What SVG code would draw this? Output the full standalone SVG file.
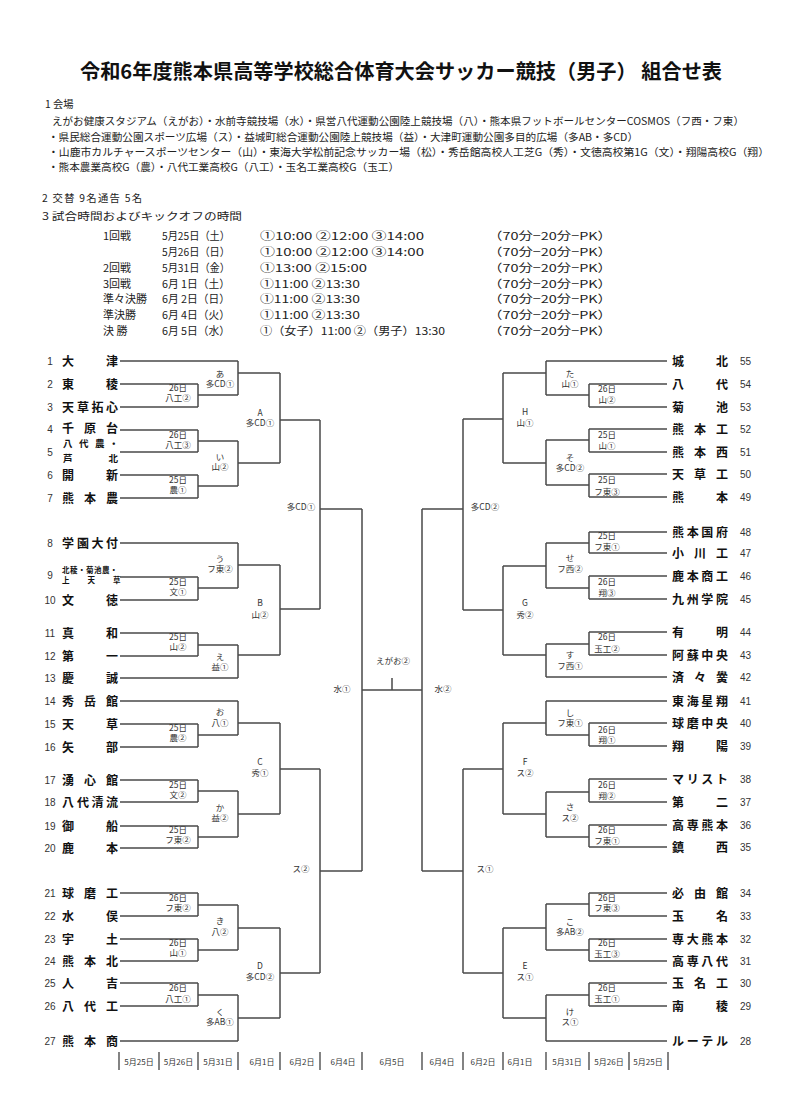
<svg xmlns="http://www.w3.org/2000/svg" width="789" height="1106" viewBox="0 0 789 1106">
<style>
.bg{fill:#fff}
.ln{stroke:#4a4a4a;stroke-width:1.5;fill:none}
.tk{stroke:#333;stroke-width:1.2;fill:none}
.ti{font-family:"Noto Sans CJK JP",sans-serif;font-weight:bold;font-size:20px;fill:#111}
.hd{font-family:"Noto Sans CJK JP",sans-serif;font-size:10.3px;fill:#222}
.sc{font-family:"Noto Sans CJK JP",sans-serif;font-size:11px;fill:#222}
.tm{font-family:"Noto Sans CJK JP",sans-serif;font-weight:bold;font-size:12px;fill:#111}
.tm5{font-family:"Noto Sans CJK JP",sans-serif;font-weight:bold;font-size:9.5px;fill:#111}
.tm9{font-family:"Noto Sans CJK JP",sans-serif;font-weight:bold;font-size:7.5px;fill:#111}
.no{font-family:"Liberation Sans","Noto Sans CJK JP",sans-serif;font-size:10px;fill:#333;text-anchor:middle}
.nr{font-family:"Liberation Sans","Noto Sans CJK JP",sans-serif;font-size:10px;fill:#333}
.lb{font-family:"Noto Sans CJK JP",sans-serif;font-size:8.5px;fill:#333;text-anchor:middle}
.dt{font-family:"Noto Sans CJK JP",sans-serif;font-size:8px;fill:#333;text-anchor:middle}
</style>
<rect class="bg" x="0" y="0" width="789" height="1106"/>

<g id="header">
<text class="ti" x="80" y="79" textLength="642" lengthAdjust="spacingAndGlyphs">令和6年度熊本県高等学校総合体育大会サッカー競技（男子） 組合せ表</text>
<text class="hd" x="45" y="108">1 会場</text>
<text class="hd" x="52" y="124.5" textLength="692" lengthAdjust="spacingAndGlyphs">えがお健康スタジアム（えがお）・水前寺競技場（水）・県営八代運動公園陸上競技場（八）・熊本県フットボールセンターCOSMOS（フ西・フ東）</text>
<text class="hd" x="48" y="140.5" textLength="590" lengthAdjust="spacingAndGlyphs">・県民総合運動公園スポーツ広場（ス）・益城町総合運動公園陸上競技場（益）・大津町運動公園多目的広場（多AB・多CD）</text>
<text class="hd" x="48" y="155.5" textLength="721" lengthAdjust="spacingAndGlyphs">・山鹿市カルチャースポーツセンター（山）・東海大学松前記念サッカー場（松）・秀岳館高校人工芝G（秀）・文徳高校第1G（文）・翔陽高校G（翔）</text>
<text class="hd" x="48" y="171" textLength="351" lengthAdjust="spacingAndGlyphs">・熊本農業高校G（農）・八代工業高校G（八工）・玉名工業高校G（玉工）</text>
<text class="hd" x="42" y="202" textLength="100" lengthAdjust="spacing">2 交替 9名通告 5名</text>
<text class="hd" x="42" y="220" textLength="200" lengthAdjust="spacingAndGlyphs">3 試合時間およびキックオフの時間</text>
</g>

<g id="schedule">
<text class="sc" x="103" y="239.5">1回戦</text>
<text class="sc" x="162" y="239.5" textLength="68" lengthAdjust="spacingAndGlyphs">5月25日（土）</text>
<text class="sc" x="260" y="239.5" textLength="164" lengthAdjust="spacingAndGlyphs">①10:00 ②12:00 ③14:00</text>
<text class="sc" x="488" y="239.5" textLength="124" lengthAdjust="spacingAndGlyphs">（70分−20分−PK）</text>

<text class="sc" x="162" y="255.5" textLength="68" lengthAdjust="spacingAndGlyphs">5月26日（日）</text>
<text class="sc" x="260" y="255.5" textLength="164" lengthAdjust="spacingAndGlyphs">①10:00 ②12:00 ③14:00</text>
<text class="sc" x="488" y="255.5" textLength="124" lengthAdjust="spacingAndGlyphs">（70分−20分−PK）</text>

<text class="sc" x="103" y="271.5">2回戦</text>
<text class="sc" x="162" y="271.5" textLength="68" lengthAdjust="spacingAndGlyphs">5月31日（金）</text>
<text class="sc" x="260" y="271.5" textLength="107" lengthAdjust="spacingAndGlyphs">①13:00 ②15:00</text>
<text class="sc" x="488" y="271.5" textLength="124" lengthAdjust="spacingAndGlyphs">（70分−20分−PK）</text>

<text class="sc" x="103" y="287.5">3回戦</text>
<text class="sc" x="162" y="287.5" textLength="68" lengthAdjust="spacingAndGlyphs">6月 1日（土）</text>
<text class="sc" x="260" y="287.5" textLength="100" lengthAdjust="spacingAndGlyphs">①11:00 ②13:30</text>
<text class="sc" x="488" y="287.5" textLength="124" lengthAdjust="spacingAndGlyphs">（70分−20分−PK）</text>

<text class="sc" x="103" y="303">準々決勝</text>
<text class="sc" x="162" y="303" textLength="68" lengthAdjust="spacingAndGlyphs">6月 2日（日）</text>
<text class="sc" x="260" y="303" textLength="100" lengthAdjust="spacingAndGlyphs">①11:00 ②13:30</text>
<text class="sc" x="488" y="303" textLength="124" lengthAdjust="spacingAndGlyphs">（70分−20分−PK）</text>

<text class="sc" x="103" y="318.5">準決勝</text>
<text class="sc" x="162" y="318.5" textLength="68" lengthAdjust="spacingAndGlyphs">6月 4日（火）</text>
<text class="sc" x="260" y="318.5" textLength="100" lengthAdjust="spacingAndGlyphs">①11:00 ②13:30</text>
<text class="sc" x="488" y="318.5" textLength="124" lengthAdjust="spacingAndGlyphs">（70分−20分−PK）</text>

<text class="sc" x="103" y="334.5">決 勝</text>
<text class="sc" x="162" y="334.5" textLength="68" lengthAdjust="spacingAndGlyphs">6月 5日（水）</text>
<text class="sc" x="260" y="334.5" textLength="185" lengthAdjust="spacingAndGlyphs">①（女子）11:00 ②（男子）13:30</text>
<text class="sc" x="488" y="334.5" textLength="124" lengthAdjust="spacingAndGlyphs">（70分−20分−PK）</text>
</g>

<g id="connectors">
<path class="ln" d="
M120 361H238 M120 384H198 M120 407H198 M120 430H198 M120 452H198 M120 475H198 M120 498H198
M120 543H238 M120 577H198 M120 600H198 M120 633H198 M120 656H198 M120 678H238
M120 701H238 M120 724H198 M120 747H198 M120 780H198 M120 802H198 M120 826H198 M120 848H198
M120 893H198 M120 916H198 M120 939H198 M120 961H198 M120 983H198 M120 1006H198 M120 1041H238
M198 384V407 M198 395H238 M198 430V452 M198 441H238 M198 475V498 M198 486H238
M198 577V600 M198 588H238 M198 633V656 M198 645H238
M198 724V747 M198 735H238 M198 780V802 M198 791H238 M198 826V848 M198 837H238
M198 893V916 M198 905H238 M198 939V961 M198 950H238 M198 983V1006 M198 995H238
M238 361V395 M238 373H280 M238 441V486 M238 463H280 M238 543V588 M238 565H280 M238 645V678 M238 655H280
M238 701V735 M238 723H280 M238 791V837 M238 814H280 M238 905V950 M238 928H280 M238 995V1041 M238 1018H280
M280 373V463 M280 420H320 M280 565V655 M280 609H320 M280 723V814 M280 769H320 M280 928V1018 M280 973H320
M320 420V609 M320 509H362 M320 769V973 M320 871H362
M362 509V871 M362 690H422 M392 678V690
M422 509V871 M422 509H463 M422 871H463
M463 419V610 M463 769V973
M463 419H503 M463 610H503 M463 769H503 M463 973H503
M503 373V463 M503 566V655 M503 723V814 M503 928V1018
M503 373H546 M503 463H546 M503 566H546 M503 655H546 M503 723H546 M503 814H546 M503 928H546 M503 1018H546
M546 361V395 M546 440V485 M546 543V588 M546 644V677 M546 701V735 M546 792V837 M546 904V950 M546 995V1041
M546 395H589 M546 440H589 M546 485H589 M546 543H589 M546 588H589 M546 644H589 M546 735H589 M546 792H589 M546 837H589 M546 904H589 M546 950H589 M546 995H589
M589 384V407 M589 429V452 M589 474V497 M589 532V553 M589 576V599 M589 632V655 M589 723V746 M589 779V802 M589 825V847 M589 893V916 M589 939V961 M589 983V1006
M546 361H667 M589 384H667 M589 407H667 M589 429H667 M589 452H667 M589 474H667 M589 497H667
M589 532H667 M589 553H667 M589 576H667 M589 599H667 M589 632H667 M589 655H667 M546 677H667
M546 701H667 M589 723H667 M589 746H667 M589 779H667 M589 802H667 M589 825H667 M589 847H667
M589 893H667 M589 916H667 M589 939H667 M589 961H667 M589 983H667 M589 1006H667 M546 1041H667"/>
</g>

<g id="teams-left">
<g id="team-1"><text class="no" x="50" y="364.6">1</text><text class="tm" x="62 106" y="365.5">大津</text></g>
<g id="team-2"><text class="no" x="50" y="387.6">2</text><text class="tm" x="62 106" y="388.5">東稜</text></g>
<g id="team-3"><text class="no" x="50" y="410.6">3</text><text class="tm" x="62 77 91.5 106" y="411.5">天草拓心</text></g>
<g id="team-4"><text class="no" x="50" y="432.6">4</text><text class="tm" x="62 84 106" y="433">千原台</text></g>
<g id="team-5"><text class="no" x="50" y="455.6">5</text><text class="tm5" x="63 79 95 109" y="447">八代農・</text><text class="tm5" x="63 108.5" y="461.5">芦北</text></g>
<g id="team-6"><text class="no" x="50" y="478.6">6</text><text class="tm" x="62 106" y="479.5">開新</text></g>
<g id="team-7"><text class="no" x="50" y="501.6">7</text><text class="tm" x="62 84 106" y="502.5">熊本農</text></g>
<g id="team-8"><text class="no" x="50" y="546.6">8</text><text class="tm" x="62 77 91.5 106" y="547.5">学園大付</text></g>
<g id="team-9"><text class="no" x="50" y="578.6">9</text><text class="tm9" x="62 70 78 86 94 102 110" y="572.8">北稜・菊池農・</text><text class="tm9" x="62 87.5 113" y="582.5">上天草</text></g>
<g id="team-10"><text class="no" x="50" y="603.6">10</text><text class="tm" x="62 106" y="604.5">文徳</text></g>
<g id="team-11"><text class="no" x="50" y="636.6">11</text><text class="tm" x="62 106" y="637.5">真和</text></g>
<g id="team-12"><text class="no" x="50" y="659.6">12</text><text class="tm" x="62 106" y="660.5">第一</text></g>
<g id="team-13"><text class="no" x="50" y="681.6">13</text><text class="tm" x="62 106" y="682.5">慶誠</text></g>
<g id="team-14"><text class="no" x="50" y="704.6">14</text><text class="tm" x="62 84 106" y="705.5">秀岳館</text></g>
<g id="team-15"><text class="no" x="50" y="727.6">15</text><text class="tm" x="62 106" y="728.5">天草</text></g>
<g id="team-16"><text class="no" x="50" y="750.6">16</text><text class="tm" x="62 106" y="751.5">矢部</text></g>
<g id="team-17"><text class="no" x="50" y="783.6">17</text><text class="tm" x="62 84 106" y="784.5">湧心館</text></g>
<g id="team-18"><text class="no" x="50" y="805.6">18</text><text class="tm" x="62 77 91.5 106" y="806.5">八代清流</text></g>
<g id="team-19"><text class="no" x="50" y="829.6">19</text><text class="tm" x="62 106" y="830.5">御船</text></g>
<g id="team-20"><text class="no" x="50" y="851.6">20</text><text class="tm" x="62 106" y="852.5">鹿本</text></g>
<g id="team-21"><text class="no" x="50" y="896.6">21</text><text class="tm" x="62 84 106" y="897.5">球磨工</text></g>
<g id="team-22"><text class="no" x="50" y="919.6">22</text><text class="tm" x="62 106" y="920.5">水俣</text></g>
<g id="team-23"><text class="no" x="50" y="942.6">23</text><text class="tm" x="62 106" y="943.5">宇土</text></g>
<g id="team-24"><text class="no" x="50" y="964.6">24</text><text class="tm" x="62 84 106" y="965.5">熊本北</text></g>
<g id="team-25"><text class="no" x="50" y="986.6">25</text><text class="tm" x="62 106" y="987.5">人吉</text></g>
<g id="team-26"><text class="no" x="50" y="1009.6">26</text><text class="tm" x="62 84 106" y="1010.5">八代工</text></g>
<g id="team-27"><text class="no" x="50" y="1044.6">27</text><text class="tm" x="62 84 106" y="1045.5">熊本商</text></g>
</g>

<g id="teams-right">
<g id="team-55"><text class="tm" x="672 716" y="365.5">城北</text><text class="nr" x="740" y="364.6">55</text></g>
<g id="team-54"><text class="tm" x="672 716" y="388.5">八代</text><text class="nr" x="740" y="387.6">54</text></g>
<g id="team-53"><text class="tm" x="672 716" y="411.5">菊池</text><text class="nr" x="740" y="410.6">53</text></g>
<g id="team-52"><text class="tm" x="672 694 716" y="433.5">熊本工</text><text class="nr" x="740" y="432.6">52</text></g>
<g id="team-51"><text class="tm" x="672 694 716" y="456.5">熊本西</text><text class="nr" x="740" y="455.6">51</text></g>
<g id="team-50"><text class="tm" x="672 694 716" y="478.5">天草工</text><text class="nr" x="740" y="477.6">50</text></g>
<g id="team-49"><text class="tm" x="672 716" y="501.5">熊本</text><text class="nr" x="740" y="500.6">49</text></g>
<g id="team-48"><text class="tm" x="672 686.7 701.3 716" y="536.5">熊本国府</text><text class="nr" x="740" y="535.6">48</text></g>
<g id="team-47"><text class="tm" x="672 694 716" y="557.5">小川工</text><text class="nr" x="740" y="556.6">47</text></g>
<g id="team-46"><text class="tm" x="672 686.7 701.3 716" y="580.5">鹿本商工</text><text class="nr" x="740" y="579.6">46</text></g>
<g id="team-45"><text class="tm" x="672 686.7 701.3 716" y="603.5">九州学院</text><text class="nr" x="740" y="602.6">45</text></g>
<g id="team-44"><text class="tm" x="672 716" y="636.5">有明</text><text class="nr" x="740" y="635.6">44</text></g>
<g id="team-43"><text class="tm" x="672 686.7 701.3 716" y="659.5">阿蘇中央</text><text class="nr" x="740" y="658.6">43</text></g>
<g id="team-42"><text class="tm" x="672 694 716" y="681.5">済々黌</text><text class="nr" x="740" y="680.6">42</text></g>
<g id="team-41"><text class="tm" x="672 686.7 701.3 716" y="705.5">東海星翔</text><text class="nr" x="740" y="704.6">41</text></g>
<g id="team-40"><text class="tm" x="672 686.7 701.3 716" y="727.5">球磨中央</text><text class="nr" x="740" y="726.6">40</text></g>
<g id="team-39"><text class="tm" x="672 716" y="750.5">翔陽</text><text class="nr" x="740" y="749.6">39</text></g>
<g id="team-38"><text class="tm" x="672 686.7 701.3 716" y="783.5">マリスト</text><text class="nr" x="740" y="782.6">38</text></g>
<g id="team-37"><text class="tm" x="672 716" y="806.5">第二</text><text class="nr" x="740" y="805.6">37</text></g>
<g id="team-36"><text class="tm" x="672 686.7 701.3 716" y="829.5">高専熊本</text><text class="nr" x="740" y="828.6">36</text></g>
<g id="team-35"><text class="tm" x="672 716" y="851.5">鎮西</text><text class="nr" x="740" y="850.6">35</text></g>
<g id="team-34"><text class="tm" x="672 694 716" y="897.5">必由館</text><text class="nr" x="740" y="896.6">34</text></g>
<g id="team-33"><text class="tm" x="672 716" y="920.5">玉名</text><text class="nr" x="740" y="919.6">33</text></g>
<g id="team-32"><text class="tm" x="672 686.7 701.3 716" y="943.5">専大熊本</text><text class="nr" x="740" y="942.6">32</text></g>
<g id="team-31"><text class="tm" x="672 686.7 701.3 716" y="965.5">高専八代</text><text class="nr" x="740" y="964.6">31</text></g>
<g id="team-30"><text class="tm" x="672 694 716" y="987.5">玉名工</text><text class="nr" x="740" y="986.6">30</text></g>
<g id="team-29"><text class="tm" x="672 716" y="1010.5">南稜</text><text class="nr" x="740" y="1009.6">29</text></g>
<g id="team-28"><text class="tm" x="672 686.7 701.3 716" y="1045.5">ルーテル</text><text class="nr" x="740" y="1044.6">28</text></g>
</g>

<g id="match-labels">
<text class="lb" x="178" y="391">26日</text><text class="lb" x="178" y="401">八工②</text>
<text class="lb" x="178" y="438">26日</text><text class="lb" x="178" y="448">八工③</text>
<text class="lb" x="178" y="483">25日</text><text class="lb" x="178" y="493">農①</text>
<text class="lb" x="178" y="585">25日</text><text class="lb" x="178" y="595">文①</text>
<text class="lb" x="178" y="640">25日</text><text class="lb" x="178" y="650">山②</text>
<text class="lb" x="178" y="731">25日</text><text class="lb" x="178" y="741">農②</text>
<text class="lb" x="178" y="788">25日</text><text class="lb" x="178" y="798">文②</text>
<text class="lb" x="178" y="833">25日</text><text class="lb" x="178" y="843">フ東②</text>
<text class="lb" x="178" y="901">26日</text><text class="lb" x="178" y="911">フ東②</text>
<text class="lb" x="178" y="946">26日</text><text class="lb" x="178" y="956">山①</text>
<text class="lb" x="178" y="991">26日</text><text class="lb" x="178" y="1002">八工①</text>

<text class="lb" x="220" y="377">あ</text><text class="lb" x="220" y="387">多CD①</text>
<text class="lb" x="220" y="460">い</text><text class="lb" x="220" y="470">山②</text>
<text class="lb" x="220" y="562">う</text><text class="lb" x="220" y="572">フ東②</text>
<text class="lb" x="220" y="660">え</text><text class="lb" x="220" y="670">益①</text>
<text class="lb" x="220" y="715">お</text><text class="lb" x="220" y="726">八①</text>
<text class="lb" x="220" y="811">か</text><text class="lb" x="220" y="821">益②</text>
<text class="lb" x="220" y="924">き</text><text class="lb" x="220" y="935">八②</text>
<text class="lb" x="220" y="1015">く</text><text class="lb" x="220" y="1025">多AB①</text>

<text class="lb" x="260" y="416">A</text><text class="lb" x="260" y="426">多CD①</text>
<text class="lb" x="260" y="606">B</text><text class="lb" x="260" y="618">山②</text>
<text class="lb" x="260" y="765">C</text><text class="lb" x="260" y="776">秀①</text>
<text class="lb" x="260" y="969">D</text><text class="lb" x="260" y="980">多CD②</text>

<text class="lb" x="301" y="510">多CD①</text>
<text class="lb" x="301" y="872">ス②</text>
<text class="lb" x="342" y="692">水①</text>
<text class="lb" x="393" y="664">えがお②</text>
<text class="lb" x="443" y="692">水②</text>
<text class="lb" x="485" y="510">多CD②</text>
<text class="lb" x="485" y="872">ス①</text>

<text class="lb" x="525" y="415">H</text><text class="lb" x="525" y="426">山①</text>
<text class="lb" x="525" y="606">G</text><text class="lb" x="525" y="618">秀②</text>
<text class="lb" x="525" y="765">F</text><text class="lb" x="525" y="776">ス②</text>
<text class="lb" x="525" y="969">E</text><text class="lb" x="525" y="980">ス①</text>

<text class="lb" x="570" y="377">た</text><text class="lb" x="570" y="387">山①</text>
<text class="lb" x="570" y="461">そ</text><text class="lb" x="570" y="471">多CD②</text>
<text class="lb" x="570" y="561">せ</text><text class="lb" x="570" y="572">フ西②</text>
<text class="lb" x="570" y="658">す</text><text class="lb" x="570" y="669">フ西①</text>
<text class="lb" x="570" y="716">し</text><text class="lb" x="570" y="726">フ東①</text>
<text class="lb" x="570" y="810">さ</text><text class="lb" x="570" y="821">ス②</text>
<text class="lb" x="570" y="925">こ</text><text class="lb" x="570" y="935">多AB②</text>
<text class="lb" x="570" y="1015">け</text><text class="lb" x="570" y="1025">ス①</text>

<text class="lb" x="607" y="392">26日</text><text class="lb" x="607" y="403">山②</text>
<text class="lb" x="607" y="438">25日</text><text class="lb" x="607" y="449">山①</text>
<text class="lb" x="607" y="483">25日</text><text class="lb" x="607" y="495">フ東③</text>
<text class="lb" x="607" y="539">25日</text><text class="lb" x="607" y="550">フ東①</text>
<text class="lb" x="607" y="585">26日</text><text class="lb" x="607" y="596">翔③</text>
<text class="lb" x="607" y="640">26日</text><text class="lb" x="607" y="652">玉工②</text>
<text class="lb" x="607" y="733">26日</text><text class="lb" x="607" y="743">翔①</text>
<text class="lb" x="607" y="788">26日</text><text class="lb" x="607" y="799">翔②</text>
<text class="lb" x="607" y="833">26日</text><text class="lb" x="607" y="844">フ東①</text>
<text class="lb" x="607" y="901">26日</text><text class="lb" x="607" y="911">フ東③</text>
<text class="lb" x="607" y="946">26日</text><text class="lb" x="607" y="957">玉工③</text>
<text class="lb" x="607" y="991">26日</text><text class="lb" x="607" y="1002">玉工①</text>
</g>

<g id="date-row">
<path class="tk" d="M119 1052V1070 M159 1052V1070 M198 1052V1070 M238 1052V1070 M280 1052V1070 M320 1052V1070 M362 1052V1070 M422 1052V1070 M463 1052V1070 M503 1052V1070 M546 1052V1070 M589 1052V1070 M629 1052V1070 M668 1052V1070"/>
<text class="dt" x="139" y="1065">5月25日</text>
<text class="dt" x="178.5" y="1065">5月26日</text>
<text class="dt" x="218" y="1065">5月31日</text>
<text class="dt" x="262" y="1065">6月1日</text>
<text class="dt" x="302" y="1065">6月2日</text>
<text class="dt" x="343" y="1065">6月4日</text>
<text class="dt" x="392" y="1065">6月5日</text>
<text class="dt" x="442" y="1065">6月4日</text>
<text class="dt" x="483" y="1065">6月2日</text>
<text class="dt" x="520" y="1065">6月1日</text>
<text class="dt" x="567" y="1065">5月31日</text>
<text class="dt" x="609" y="1065">5月26日</text>
<text class="dt" x="648" y="1065">5月25日</text>
</g>
</svg>
